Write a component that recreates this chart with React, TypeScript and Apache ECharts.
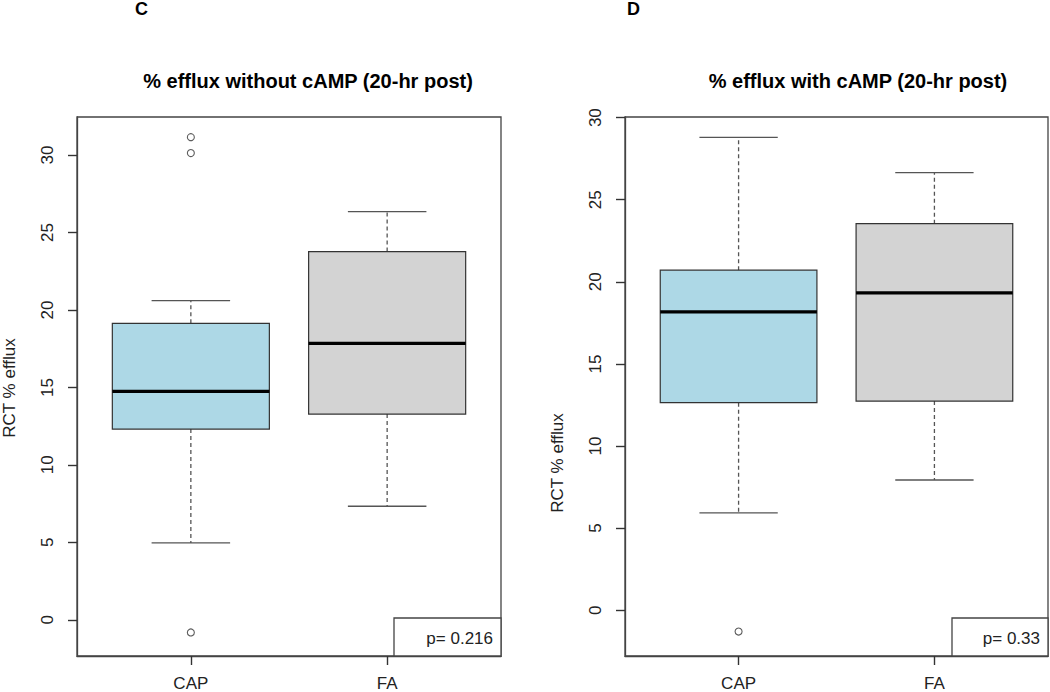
import React, { useEffect, useRef } from "react";
import * as echarts from "echarts";

// ---------- data ----------
const categories = ["CAP", "FA"];
const boxFills = ["#ADD8E6", "#D3D3D3"];
const yTicks = [0, 5, 10, 15, 20, 25, 30];

// [lower whisker, Q1, median, Q3, upper whisker]
const withoutCampStats = [
  [4.96, 12.31, 14.75, 19.14, 20.6],
  [7.33, 13.28, 17.85, 23.77, 26.35],
];
const withoutCampOutliers = [
  [1, 31.16],
  [1, 30.13],
  [1, -0.82],
];
const withCampStats = [
  [5.93, 12.64, 18.17, 20.71, 28.8],
  [7.93, 12.74, 19.33, 23.54, 26.65],
];
const withCampOutliers = [[1, -1.3]];

const titleLeft = "% efflux without cAMP (20-hr post)";
const titleRight = "% efflux with cAMP (20-hr post)";
const yLabel = "RCT % efflux";
const pLeft = "p= 0.216";
const pRight = "p= 0.33";

const FONT = "'Liberation Sans', Arial, Helvetica, sans-serif";

function boxRender(params: any, api: any) {
  const x = api.value(0);
  const lo = api.value(1);
  const q1 = api.value(2);
  const med = api.value(3);
  const q3 = api.value(4);
  const hi = api.value(5);
  const half = api.size([0.8, 0])[0] / 2;
  const capHalf = api.size([0.4, 0])[0] / 2;
  const pLo = api.coord([x, lo]);
  const pQ1 = api.coord([x, q1]);
  const pMed = api.coord([x, med]);
  const pQ3 = api.coord([x, q3]);
  const pHi = api.coord([x, hi]);
  const cx = pMed[0];
  const fill = boxFills[params.dataIndex];
  const wStyle = { stroke: "#555", lineWidth: 1.3, lineDash: [4, 3] };
  const cStyle = { stroke: "#555", lineWidth: 1.3 };
  return {
    type: "group",
    children: [
      { type: "line", shape: { x1: cx, y1: pQ3[1], x2: cx, y2: pHi[1] }, style: wStyle },
      { type: "line", shape: { x1: cx, y1: pQ1[1], x2: cx, y2: pLo[1] }, style: wStyle },
      { type: "line", shape: { x1: cx - capHalf, y1: pHi[1], x2: cx + capHalf, y2: pHi[1] }, style: cStyle },
      { type: "line", shape: { x1: cx - capHalf, y1: pLo[1], x2: cx + capHalf, y2: pLo[1] }, style: cStyle },
      {
        type: "rect",
        shape: { x: cx - half, y: pQ3[1], width: half * 2, height: pQ1[1] - pQ3[1] },
        style: { fill, stroke: "#333", lineWidth: 1.2 },
      },
      {
        type: "line",
        shape: { x1: cx - half, y1: pMed[1], x2: cx + half, y2: pMed[1] },
        style: { stroke: "#000", lineWidth: 3.2 },
      },
    ],
  };
}

function makeAxes(idx: number, yMin: number, yMax: number) {
  const axisLine = { show: true, onZero: false, lineStyle: { color: "#444", width: 1.3 } };
  const tick = { length: 9, lineStyle: { color: "#333", width: 1.4 } };
  const xAxis = {
    type: "value",
    gridIndex: idx,
    position: "bottom",
    min: 0.42,
    max: 2.58,
    axisLine,
    splitLine: { show: false },
    axisTick: { show: true, customValues: [1, 2], ...tick },
    axisLabel: {
      customValues: [1, 2],
      formatter: (v: number) => categories[Math.round(v) - 1] || "",
      margin: 19,
      fontSize: 17,
      color: "#222",
      fontFamily: FONT,
    },
  };
  const yAxis = {
    type: "value",
    gridIndex: idx,
    position: "left",
    min: yMin,
    max: yMax,
    axisLine,
    splitLine: { show: false },
    axisTick: { show: true, customValues: yTicks, ...tick },
    axisLabel: {
      customValues: yTicks,
      rotate: 90,
      margin: 21,
      fontSize: 17,
      color: "#222",
      fontFamily: FONT,
    },
  };
  return { xAxis, yAxis };
}

export default function App() {
  const ref = useRef<HTMLDivElement>(null);
  useEffect(() => {
    if (!ref.current) return;
    const chart = echarts.init(ref.current, null, { renderer: "svg" });
    const a0 = makeAxes(0, -2.34, 32.46);
    const a1 = makeAxes(1, -2.79, 30.04);
    const gridStyle = { show: true, borderColor: "#444", borderWidth: 1.3, backgroundColor: "transparent" };
    const scatterStyle = {
      type: "scatter",
      symbol: "circle",
      symbolSize: 7,
      itemStyle: { color: "#fff", borderColor: "#333", borderWidth: 1.1 },
      z: 5,
    };
    const option: any = {
      animation: false,
      backgroundColor: "#fff",
      grid: [
        { ...gridStyle, left: 77, top: 117, right: 549, bottom: 36 },
        { ...gridStyle, left: 625, top: 117, right: 2, bottom: 36 },
      ],
      xAxis: [a0.xAxis, a1.xAxis],
      yAxis: [a0.yAxis, a1.yAxis],
      series: [
        {
          type: "custom",
          xAxisIndex: 0,
          yAxisIndex: 0,
          renderItem: boxRender,
          encode: { x: 0, y: [1, 2, 3, 4, 5] },
          data: withoutCampStats.map((s, i) => [i + 1, ...s]),
        },
        { ...scatterStyle, xAxisIndex: 0, yAxisIndex: 0, data: withoutCampOutliers },
        {
          type: "custom",
          xAxisIndex: 1,
          yAxisIndex: 1,
          renderItem: boxRender,
          encode: { x: 0, y: [1, 2, 3, 4, 5] },
          data: withCampStats.map((s, i) => [i + 1, ...s]),
        },
        { ...scatterStyle, xAxisIndex: 1, yAxisIndex: 1, data: withCampOutliers },
      ],
      graphic: [
        { type: "text", left: 135, top: 0, style: { text: "C", font: `bold 18px ${FONT}`, fill: "#000" } },
        { type: "text", left: 627, top: 0, style: { text: "D", font: `bold 18px ${FONT}`, fill: "#000" } },
        {
          type: "text",
          x: 308,
          y: 81,
          style: { text: titleLeft, font: `bold 20px ${FONT}`, fill: "#000", align: "center", verticalAlign: "middle" },
        },
        {
          type: "text",
          x: 858,
          y: 81,
          style: { text: titleRight, font: `bold 20px ${FONT}`, fill: "#000", align: "center", verticalAlign: "middle" },
        },
        {
          type: "text",
          x: 9,
          y: 388,
          rotation: Math.PI / 2,
          style: { text: yLabel, font: `17px ${FONT}`, fill: "#222", align: "center", verticalAlign: "middle" },
        },
        {
          type: "text",
          x: 557,
          y: 463,
          rotation: Math.PI / 2,
          style: { text: yLabel, font: `17px ${FONT}`, fill: "#222", align: "center", verticalAlign: "middle" },
        },
        {
          type: "rect",
          shape: { x: 394, y: 618, width: 107, height: 38 },
          style: { fill: "#fff", stroke: "#444", lineWidth: 1.3 },
          z: 10,
        },
        {
          type: "text",
          x: 493,
          y: 638,
          z: 11,
          style: { text: pLeft, font: `17px ${FONT}`, fill: "#222", align: "right", verticalAlign: "middle" },
        },
        {
          type: "rect",
          shape: { x: 952, y: 618, width: 96, height: 38 },
          style: { fill: "#fff", stroke: "#444", lineWidth: 1.3 },
          z: 10,
        },
        {
          type: "text",
          x: 1040,
          y: 638,
          z: 11,
          style: { text: pRight, font: `17px ${FONT}`, fill: "#222", align: "right", verticalAlign: "middle" },
        },
      ],
    };
    chart.setOption(option);
    return () => chart.dispose();
  }, []);
  return (
    <div
      ref={ref}
      style={{ position: "fixed", left: 0, top: 0, width: 1050, height: 692, background: "#fff" }}
    />
  );
}
